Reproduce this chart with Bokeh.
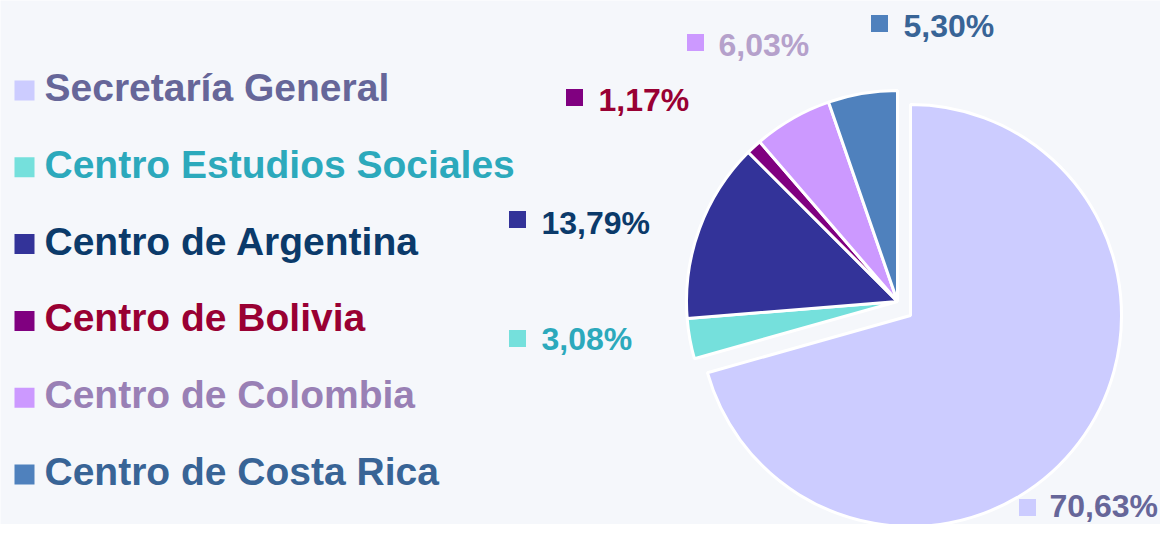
import math
from bokeh.plotting import figure
from bokeh.models import Range1d, ColumnDataSource
from bokeh.core.properties import value
from bokeh.embed import file_html
from bokeh.resources import INLINE

# ---- data ----
categories = ["Secretaría General", "Centro Estudios Sociales", "Centro de Argentina",
              "Centro de Bolivia", "Centro de Colombia", "Centro de Costa Rica"]
shares = [70.63, 3.08, 13.79, 1.17, 6.03, 5.30]
labels = ["70,63%", "3,08%", "13,79%", "1,17%", "6,03%", "5,30%"]

# ---- styles ----
slice_colors = ["#CCCCFF", "#75E0DC", "#333399", "#800080", "#CC99FF", "#4F81BD"]
legend_text_colors = ["#666699", "#2CA9BC", "#0B3A6A", "#990033", "#9980B5", "#386496"]
label_text_colors = ["#666699", "#2CA9BC", "#0B3A6A", "#990033", "#B5A1CB", "#386496"]
FONT = "Liberation Sans"
BG = "#F5F7FB"

W, H = 1160, 524
PAGE_H = 540

def Y(sy):
    # picture y (from top) -> data y
    return PAGE_H - sy

# layout of pie
pie_cx, pie_cy = 897, 301
pie_r = 211
explode_dx, explode_dy = 13, 14   # first slice pulled out (px)

# label layout (square centre x, y, text left x, text baseline y) in picture px
label_pos = [
    (1027, 507, 1049, 516),
    (517, 338, 541, 349),
    (517, 219, 541, 233),
    (574, 97, 598, 110),
    (695, 42, 718, 55),
    (879, 23, 903, 36),
]
LABEL_FS, LEGEND_FS = 32, 39
LABEL_BASE_FIX, LEGEND_BASE_FIX = 11, 13   # renderer baseline correction
legend_x_sq, legend_x_text = 24, 44
legend_y0, legend_dy = 90, 76.8

p = figure(width=W, height=H, output_backend="svg", toolbar_location=None,
           x_range=Range1d(0, W), y_range=Range1d(PAGE_H - H, PAGE_H),
           min_border=0, background_fill_color=BG, border_fill_color=BG, outline_line_color=None)
p.axis.visible = False
p.grid.visible = False

# wedges: clockwise from 12 o'clock
total = sum(shares)
cum = 0.0
xs, ys, starts, ends = [], [], [], []
for i, s in enumerate(shares):
    a0 = 90 - (cum + s) / total * 360
    a1 = 90 - cum / total * 360
    cum += s
    starts.append(math.radians(a0))
    ends.append(math.radians(a1))
    if i == 0:
        xs.append(pie_cx + explode_dx)
        ys.append(Y(pie_cy + explode_dy))
    else:
        xs.append(pie_cx)
        ys.append(Y(pie_cy))

src = ColumnDataSource(dict(x=xs, y=ys, s=starts, e=ends, c=slice_colors))
p.wedge(x="x", y="y", radius=pie_r, radius_units="screen", start_angle="s", end_angle="e",
        fill_color="c", line_color="white", line_width=3, source=src)

# data labels
lsrc = ColumnDataSource(dict(
    sx=[lp[0] for lp in label_pos], sy=[Y(lp[1]) for lp in label_pos],
    tx=[lp[2] for lp in label_pos], ty=[Y(lp[3] - LABEL_BASE_FIX) for lp in label_pos],
    t=labels, c=slice_colors, tc=label_text_colors))
p.rect(x="sx", y="sy", width=17, height=17, width_units="screen", height_units="screen",
       fill_color="c", line_color=None, source=lsrc)
p.text(x="tx", y="ty", text="t", text_color="tc", text_font=value(FONT), text_font_style="bold",
       text_font_size=f"{LABEL_FS}px", text_baseline="alphabetic", text_align="left", source=lsrc)

# legend
gy = [legend_y0 + i * legend_dy for i in range(len(categories))]
gsrc = ColumnDataSource(dict(
    sx=[legend_x_sq] * len(categories), sy=[Y(v) for v in gy],
    tx=[legend_x_text] * len(categories), ty=[Y(v + 10 - LEGEND_BASE_FIX) for v in gy],
    t=categories, c=slice_colors, tc=legend_text_colors))
p.rect(x="sx", y="sy", width=20, height=20, width_units="screen", height_units="screen",
       fill_color="c", line_color=None, source=gsrc)
p.text(x="tx", y="ty", text="t", text_color="tc", text_font=value(FONT), text_font_style="bold",
       text_font_size=f"{LEGEND_FS}px", text_baseline="alphabetic", text_align="left", source=gsrc)

open("out.html", "w").write(file_html(p, INLINE))
